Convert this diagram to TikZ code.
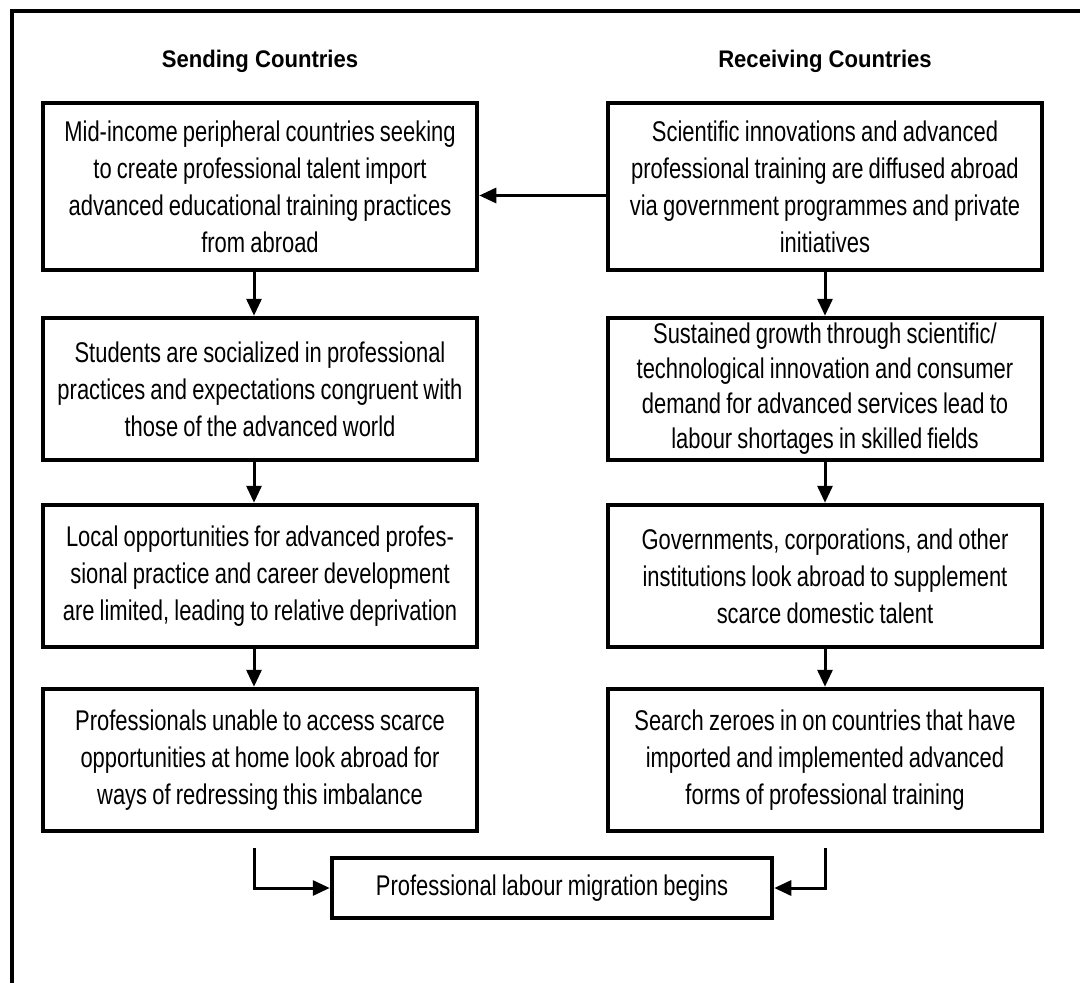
\documentclass[tikz,border=0pt]{standalone}
\usepackage{fontspec}
\setmainfont{Liberation Sans}
\newfontfamily\bodyfont{Liberation Sans}[FakeStretch=0.77, WordSpace=0.85]
\newfontfamily\headfont{Liberation Sans}[FakeStretch=0.92]
\usetikzlibrary{arrows.meta}
\begin{document}
\begin{tikzpicture}[x=1pt,y=-1pt,
  box/.style={draw, line width=4.5pt, minimum width=434pt, text width=434pt,
    align=flush center, inner sep=0pt, font=\bodyfont\fontsize{28.5}{37}\selectfont},
  tallbox/.style={box, minimum height=167pt},
  midbox/.style={box, minimum height=142pt},
  finbox/.style={draw, line width=4.5pt, minimum width=440pt, minimum height=60pt,
    inner sep=0pt, font=\bodyfont\fontsize{28.5}{37}\selectfont},
  head/.style={font=\headfont\bfseries\fontsize{24}{28}\selectfont, inner sep=0pt},
  conn/.style={line width=3pt, -{Triangle[length=17pt,width=15pt]}},
  frame/.style={line width=4pt}
]
\useasboundingbox (0,0) rectangle (1080,983);
\draw[frame] (12,983) -- (12,11) -- (1080,11);

\node[head] (hs) at (260,61) {Sending Countries};
\node[head] (hr) at (825,61) {Receiving Countries};

\node[tallbox] (b1) at (260,186.5) {Mid-income peripheral countries seeking\\to create professional talent import\\advanced educational training practices\\from abroad};
\node[midbox] (b2) at (260,389) {Students are socialized in professional\\practices and expectations congruent with\\those of the advanced world};
\node[midbox] (b3) at (260,576) {Local opportunities for advanced profes-\\sional practice and career development\\are limited, leading to relative deprivation};
\node[midbox] (b4) at (260,760) {Professionals unable to access scarce\\opportunities at home look abroad for\\ways of redressing this imbalance};

\node[tallbox] (r1) at (825,186.5) {Scientific innovations and advanced\\professional training are diffused abroad\\via government programmes and private\\initiatives};
\node[midbox, font=\bodyfont\fontsize{28.5}{35}\selectfont] (r2) at (825,389) {Sustained growth through scientific/\\technological innovation and consumer\\demand for advanced services lead to\\labour shortages in skilled fields};
\node[midbox] (r3) at (825,576) {Governments, corporations, and other\\institutions look abroad to supplement\\scarce domestic talent};
\node[midbox] (r4) at (825,760) {Search zeroes in on countries that have\\imported and implemented advanced\\forms of professional training};

\node[finbox] (fin) at (552,888) {Professional labour migration begins};

\coordinate (lx) at (254,0);
\coordinate (rx) at (825,0);
\draw[conn] ([yshift=-9pt]r1.west) -- ([yshift=-9pt]b1.east);
\draw[conn] (b1.south -| lx) -- (b2.north -| lx);
\draw[conn] (b2.south -| lx) -- (b3.north -| lx);
\draw[conn] (b3.south -| lx) -- (b4.north -| lx);
\draw[conn] (r1.south -| rx) -- (r2.north -| rx);
\draw[conn] (r2.south -| rx) -- (r3.north -| rx);
\draw[conn] (r3.south -| rx) -- (r4.north -| rx);
\coordinate (s1) at (254,848);
\coordinate (s2) at (825,848);
\draw[conn] (s1) |- (fin.west);
\draw[conn] (s2) |- (fin.east);
\end{tikzpicture}
\end{document}
